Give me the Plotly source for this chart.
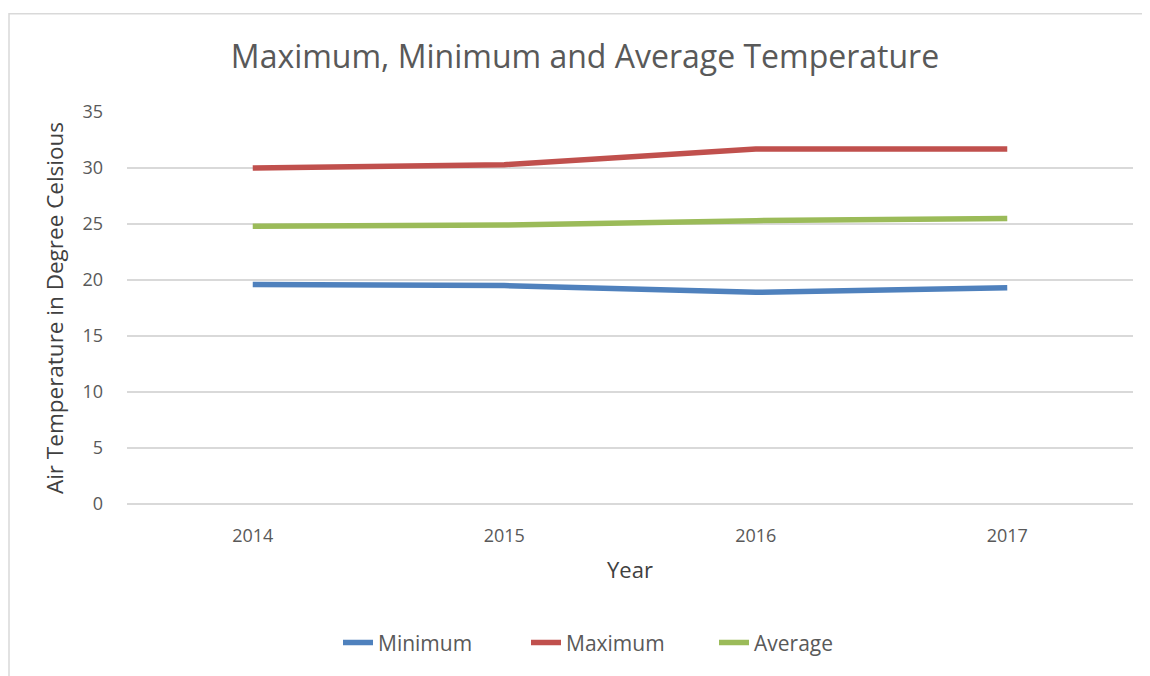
import plotly.graph_objects as go

years = ["2014", "2015", "2016", "2017"]
minimum = [19.6, 19.5, 18.9, 19.3]
maximum = [30.0, 30.3, 31.7, 31.7]
average = [24.8, 24.9, 25.3, 25.5]

series = [
    ("Minimum", minimum, "#4F81BD"),
    ("Maximum", maximum, "#C0504D"),
    ("Average", average, "#9BBB59"),
]

FONT = "Open Sans"
OFF = 8  # page body margin
W, H = 1150 - OFF, 676 - OFF
L, R, T, B = 127 - OFF, 17, 112 - OFF, 169
pw, ph = W - L - R, H - T - B

fig = go.Figure()
for name, vals, col in series:
    fig.add_trace(go.Scatter(x=years, y=vals, name=name, mode="lines",
                             line=dict(color=col, width=5.5)))

def px_x(p):
    return (p - OFF - L) / pw

def px_y(p):
    return (H - B - (p - OFF)) / ph

fig.add_shape(type="rect", xref="paper", yref="paper",
              x0=px_x(OFF + 1), x1=px_x(1170), y0=px_y(700), y1=px_y(13),
              line=dict(color="#d9d9d9", width=1.5), layer="below")

fig.update_layout(
    width=W, height=H,
    margin=dict(l=L, r=R, t=T, b=B),
    paper_bgcolor="white", plot_bgcolor="white",
    font=dict(family=FONT, color="#595959"),
    title=dict(text="Maximum, Minimum and Average Temperature",
               font=dict(size=32, color="#595959", family=FONT),
               x=(585 - OFF) / W, xanchor="center", y=1 - (57 - OFF) / H,
               yanchor="middle"),
    showlegend=True,
    legend=dict(orientation="h", x=px_x(620), xanchor="center",
                y=px_y(647), yanchor="middle",
                font=dict(size=21, color="#595959", family=FONT),
                entrywidth=143, entrywidthmode="pixels"),
    xaxis=dict(type="category", range=[-0.5, 3.5], showgrid=False,
               showline=False, zeroline=False,
               tickfont=dict(size=18, color="#595959"),
               ticklabelstandoff=19,
               title=dict(text="Year", font=dict(size=22, color="#404040"),
                          standoff=16)),
    yaxis=dict(range=[0, 35], dtick=5, showgrid=True, gridcolor="#d9d9d9",
               gridwidth=1.5, zeroline=True, zerolinecolor="#d9d9d9",
               zerolinewidth=1.5, showline=False,
               tickfont=dict(size=18, color="#595959"),
               ticklabelstandoff=23,
               title=dict(text="Air Temperature in Degree Celsious",
                          font=dict(size=22.5, color="#404040"), standoff=12)),
)

fig.write_html("out.html")
